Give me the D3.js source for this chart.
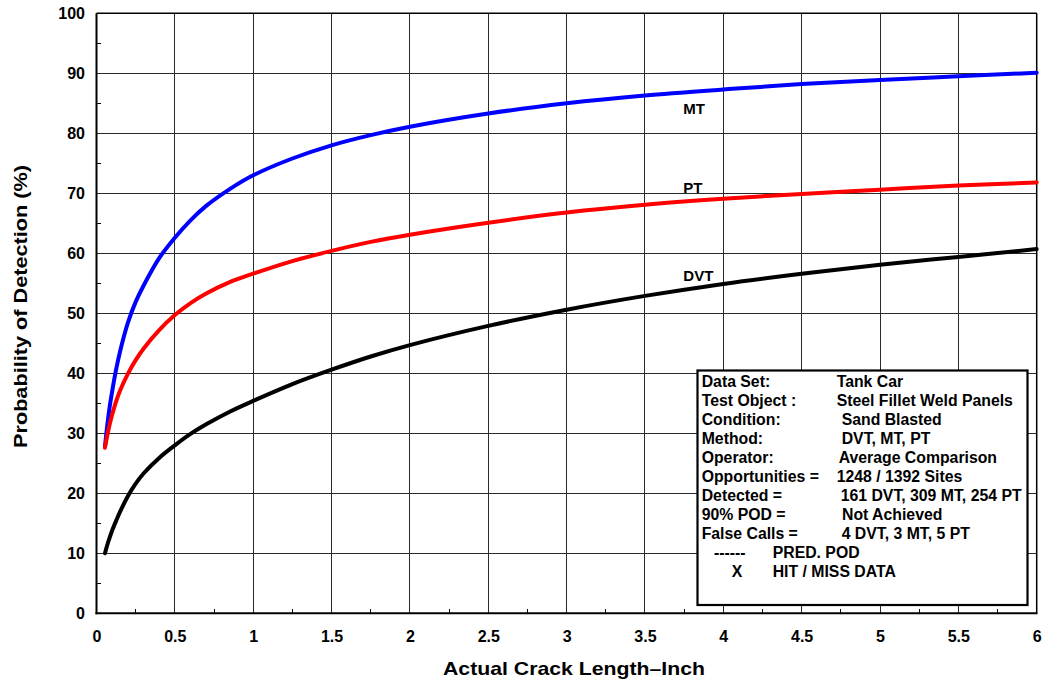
<!DOCTYPE html>
<html>
<head>
<meta charset="utf-8">
<script src="https://cdn.jsdelivr.net/npm/d3@7"></script>
<style>
  html, body { margin: 0; padding: 0; background: #fff; }
  svg { display: block; font-family: "Liberation Sans", Arial, sans-serif; }
</style>
</head>
<body>
<svg id="chart" width="1042" height="683"></svg>
<script>
// Crack lengths (inch) at which each POD curve is sampled
const crackLength = [0.054, 0.07, 0.085, 0.1, 0.125, 0.15, 0.2, 0.25, 0.3, 0.4, 0.5, 0.6, 0.7, 0.85,
                     1, 1.25, 1.5, 1.75, 2, 2.5, 3, 3.5, 4, 4.5, 5, 5.5, 6];

// Probability of detection (%) for each inspection method
const podMT  = [27.8, 31.6, 34.6, 37.0, 40.6, 43.6, 48.4, 51.9, 54.6, 59.2, 62.6, 65.5, 67.9, 70.7,
                73.0, 75.8, 78.0, 79.7, 81.1, 83.3, 85.0, 86.3, 87.3, 88.2, 88.9, 89.5, 90.1];
const podPT  = [27.6, 29.8, 31.6, 33.1, 35.3, 37.1, 39.9, 42.2, 44.1, 47.2, 49.7, 51.7, 53.3, 55.2,
                56.6, 58.7, 60.4, 61.9, 63.1, 65.1, 66.8, 68.1, 69.1, 69.9, 70.6, 71.3, 71.8];
const podDVT = [10.0, 11.5, 12.7, 13.8, 15.4, 16.9, 19.5, 21.6, 23.3, 25.9, 28.0, 29.9, 31.5, 33.6,
                35.4, 38.2, 40.6, 42.8, 44.7, 47.9, 50.6, 52.9, 54.9, 56.6, 58.1, 59.4, 60.7];

const seriesNames = ["MT", "PT", "DVT"];

// Axis ticks
const xTickValues = [0, 0.5, 1, 1.5, 2, 2.5, 3, 3.5, 4, 4.5, 5, 5.5, 6];
const xTickLabels = ["0", "0.5", "1", "1.5", "2", "2.5", "3", "3.5", "4", "4.5", "5", "5.5", "6"];
const xMinorTicks = [0.25, 0.75, 1.25, 1.75, 2.25, 2.75, 3.25, 3.75, 4.25, 4.75, 5.25, 5.75];
const yTickValues = [0, 10, 20, 30, 40, 50, 60, 70, 80, 90, 100];
const yTickLabels = ["0", "10", "20", "30", "40", "50", "60", "70", "80", "90", "100"];
const yMinorTicks = [5, 15, 25, 35, 45, 55, 65, 75, 85, 95];

// Summary box text
const infoKeys   = ["Data Set:", "Test Object :", "Condition:", "Method:", "Operator:", "Opportunities =", "Detected =", "90% POD =", "False Calls ="];
const infoValues = ["Tank Car", "Steel Fillet Weld Panels", "Sand Blasted", "DVT, MT, PT", "Average Comparison", "1248 / 1392 Sites", "161 DVT, 309 MT, 254 PT", "Not Achieved", "4 DVT, 3 MT, 5 PT"];
const keySymbols = ["------", "X"];
const keyLabels  = ["PRED. POD", "HIT / MISS DATA"];

const xTitle = "Actual Crack Length\u2013Inch";
const yTitle = "Probability of Detection (%)";

// ---------------------------------------------------------------
const svg = d3.select("#chart");
const plotLeft = 96.5, plotRight = 1036.7, plotTop = 13.3, plotBottom = 613.3;

const x = d3.scaleLinear().domain([0, 6]).range([plotLeft, plotRight]);
const y = d3.scaleLinear().domain([0, 100]).range([plotBottom, plotTop]);

svg.append("rect").attr("width", 1042).attr("height", 683).attr("fill", "#fff");

// Grid
const grid = svg.append("g").attr("stroke", "#2a2a2a").attr("stroke-width", 1).attr("shape-rendering", "crispEdges");
grid.selectAll("line.v").data(xTickValues.filter(d => d > 0 && d < 6)).join("line")
  .attr("x1", d => x(d)).attr("x2", d => x(d)).attr("y1", plotTop).attr("y2", plotBottom);
grid.selectAll("line.h").data(yTickValues.filter(d => d > 0 && d < 100)).join("line")
  .attr("y1", d => y(d)).attr("y2", d => y(d)).attr("x1", plotLeft).attr("x2", plotRight);

// Minor ticks (inside)
const minor = svg.append("g").attr("stroke", "#000").attr("stroke-width", 1).attr("shape-rendering", "crispEdges");
minor.selectAll("line.xm").data(xMinorTicks).join("line")
  .attr("x1", d => x(d)).attr("x2", d => x(d)).attr("y1", plotBottom).attr("y2", plotBottom - 4);
minor.selectAll("line.ym").data(yMinorTicks).join("line")
  .attr("y1", d => y(d)).attr("y2", d => y(d)).attr("x1", plotLeft).attr("x2", plotLeft + 4);

// Axis labels
const xAxis = d3.axisBottom(x).tickValues(xTickValues)
  .tickFormat((d, i) => xTickLabels[i]).tickSize(0).tickPadding(17.4);
const gx = svg.append("g").attr("transform", `translate(0,${plotBottom})`).call(xAxis);
const yAxis = d3.axisLeft(y).tickValues(yTickValues)
  .tickFormat((d, i) => yTickLabels[i]).tickSize(0).tickPadding(11.5);
const gy = svg.append("g").attr("transform", `translate(${plotLeft},0)`).call(yAxis);
[gx, gy].forEach(g => {
  g.select(".domain").remove();
  g.selectAll("text").attr("font-size", 16).attr("font-weight", "bold")
    .attr("fill", "#000").attr("font-family", "'Liberation Sans', Arial, sans-serif");
});

// Frame
const frame = svg.append("g").attr("stroke", "#000").attr("fill", "none");
frame.append("line").attr("x1", plotLeft).attr("x2", plotRight).attr("y1", plotTop).attr("y2", plotTop).attr("stroke-width", 1.5);
frame.append("line").attr("x1", plotRight).attr("x2", plotRight).attr("y1", plotTop).attr("y2", plotBottom).attr("stroke-width", 1.5);
frame.append("line").attr("x1", plotLeft).attr("x2", plotLeft).attr("y1", plotTop).attr("y2", plotBottom + 1).attr("stroke-width", 2);
frame.append("line").attr("x1", plotLeft - 1).attr("x2", plotRight + 0.75).attr("y1", plotBottom).attr("y2", plotBottom).attr("stroke-width", 2);

// POD curves
const series = [
  { name: seriesNames[0], values: podMT,  color: "#0000ff" },
  { name: seriesNames[1], values: podPT,  color: "#ff0000" },
  { name: seriesNames[2], values: podDVT, color: "#000000" }
];
const line = d3.line()
  .x(d => x(d[0])).y(d => y(d[1]))
  .curve(d3.curveCatmullRom.alpha(0.5));

svg.append("g").selectAll("path").data(series).join("path")
  .attr("d", s => line(crackLength.map((c, i) => [c, s.values[i]])))
  .attr("fill", "none")
  .attr("stroke", s => s.color)
  .attr("stroke-width", 4)
  .attr("stroke-linecap", "round")
  .attr("stroke-linejoin", "round");

// Curve name labels
const labelAnchor = [[3.745, 83.3], [3.745, 70.0], [3.745, 55.4]];
svg.append("g").selectAll("text").data(series).join("text")
  .attr("x", (s, i) => x(labelAnchor[i][0]))
  .attr("y", (s, i) => y(labelAnchor[i][1]))
  .attr("font-size", 15).attr("font-weight", "bold").attr("fill", "#000")
  .text(s => s.name);

// Summary box
const box = svg.append("g");
box.append("rect")
  .attr("x", 697.5).attr("y", 370.5).attr("width", 330).attr("height", 234.5)
  .attr("fill", "#fff").attr("stroke", "#000").attr("stroke-width", 2.2);

const rowY0 = 386.5, rowStep = 19.0;
const valueX = [836.7, 836.7, 841.7, 841.7, 838.7, 836.7, 840.7, 842, 841.7];
const txt = box.append("g").attr("font-size", 15.8).attr("font-weight", "bold").attr("fill", "#000");
txt.selectAll("text.k").data(infoKeys).join("text")
  .attr("x", 701.7).attr("y", (d, i) => rowY0 + i * rowStep).text(d => d);
txt.selectAll("text.v").data(infoValues).join("text")
  .attr("x", (d, i) => valueX[i]).attr("y", (d, i) => rowY0 + i * rowStep).text(d => d);

const symX = [714, 731.7];
txt.selectAll("text.s").data(keySymbols).join("text")
  .attr("x", (d, i) => symX[i]).attr("y", (d, i) => rowY0 + (infoKeys.length + i) * rowStep).text(d => d);
txt.selectAll("text.l").data(keyLabels).join("text")
  .attr("x", 772.7).attr("y", (d, i) => rowY0 + (infoKeys.length + i) * rowStep).text(d => d);

// Axis titles
svg.append("text")
  .attr("x", 443).attr("y", 674.5)
  .attr("font-size", 19).attr("font-weight", "bold").attr("fill", "#000")
  .attr("textLength", 262).attr("lengthAdjust", "spacingAndGlyphs")
  .text(xTitle);

svg.append("text")
  .attr("transform", "translate(26.5,448) rotate(-90)")
  .attr("x", 0).attr("y", 0)
  .attr("font-size", 19).attr("font-weight", "bold").attr("fill", "#000")
  .attr("textLength", 283).attr("lengthAdjust", "spacingAndGlyphs")
  .text(yTitle);
</script>
</body>
</html>
